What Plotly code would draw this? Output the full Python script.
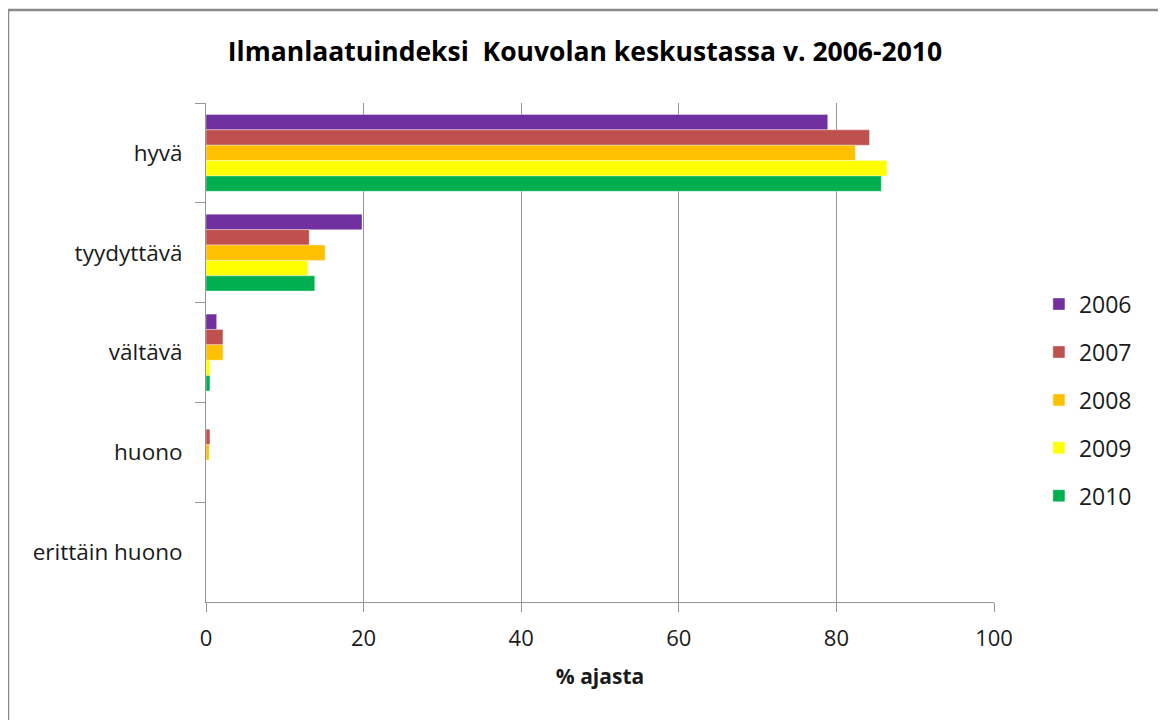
import plotly.graph_objects as go

# Air quality index categories and share of time (%) per year
categories = ["hyvä", "tyydyttävä", "vältävä", "huono", "erittäin huono"]
years = ["2006", "2007", "2008", "2009", "2010"]
v2006 = [78.9, 19.8, 1.35, 0.0, 0.0]
v2007 = [84.2, 13.1, 2.15, 0.5, 0.0]
v2008 = [82.4, 15.1, 2.15, 0.4, 0.0]
v2009 = [86.4, 12.9, 0.5, 0.0, 0.0]
v2010 = [85.7, 13.8, 0.5, 0.0, 0.0]
colors = ["#7030A0", "#C0504D", "#FFC000", "#FFFF00", "#00B050"]

FONT = "Open Sans"
GRID = "#959595"

fig = go.Figure()
for year, vals, col in zip(years, [v2006, v2007, v2008, v2009, v2010], colors):
    fig.add_trace(go.Bar(
        x=vals, y=categories, name=year, orientation="h",
        marker=dict(color=col, line=dict(color="rgba(255,255,255,0.6)", width=0.6)),
        legendgroup=year,
    ))

# page has an 8px body margin, so the figure is a bit smaller than the window
W, H = 1158, 712
fig.update_layout(
    width=W, height=H,
    margin=dict(l=198, r=172, t=95, b=118),
    paper_bgcolor="white", plot_bgcolor="white",
    barmode="group", bargap=0.23, bargroupgap=0,
    font=dict(family=FONT, color="#1a1a1a"),
    title=dict(
        text="<b>Ilmanlaatuindeksi  Kouvolan keskustassa v. 2006-2010</b>",
        x=(585 - 8) / W, xref="container", xanchor="center",
        y=1 - 44 / H, yref="container", yanchor="middle",
        font=dict(size=26.5, color="#000"),
    ),
    legend=dict(
        x=1.057, xanchor="left", y=0.64, yanchor="top",
        traceorder="grouped", tracegroupgap=15,
        font=dict(size=23, color="#1a1a1a"),
        bgcolor="rgba(0,0,0,0)",
    ),
    xaxis=dict(
        range=[0, 100], dtick=20, tick0=0,
        showgrid=True, gridcolor=GRID, gridwidth=1,
        showline=True, linecolor=GRID, linewidth=1,
        ticks="outside", ticklen=9, tickcolor=GRID,
        tickfont=dict(size=22), zeroline=False, ticklabelstandoff=8,
        title=dict(text="<b>% ajasta</b>", font=dict(size=21), standoff=17),
    ),
    yaxis=dict(
        autorange="reversed", showgrid=False,
        showline=True, linecolor=GRID, linewidth=1,
        ticks="outside", ticklen=10, tickcolor=GRID, tickson="boundaries",
        tickfont=dict(size=22.5), ticklabelstandoff=18,
    ),
    shapes=[dict(
        type="rect", xref="paper", yref="paper",
        x0=(8 - 206) / 788, x1=(1160 - 206) / 788,
        y0=(602 - 740) / 499, y1=(602 - 10) / 499,
        line=dict(color="#8a8a8a", width=2.5), fillcolor="rgba(0,0,0,0)",
    )],
)

fig.write_html("out.html")
